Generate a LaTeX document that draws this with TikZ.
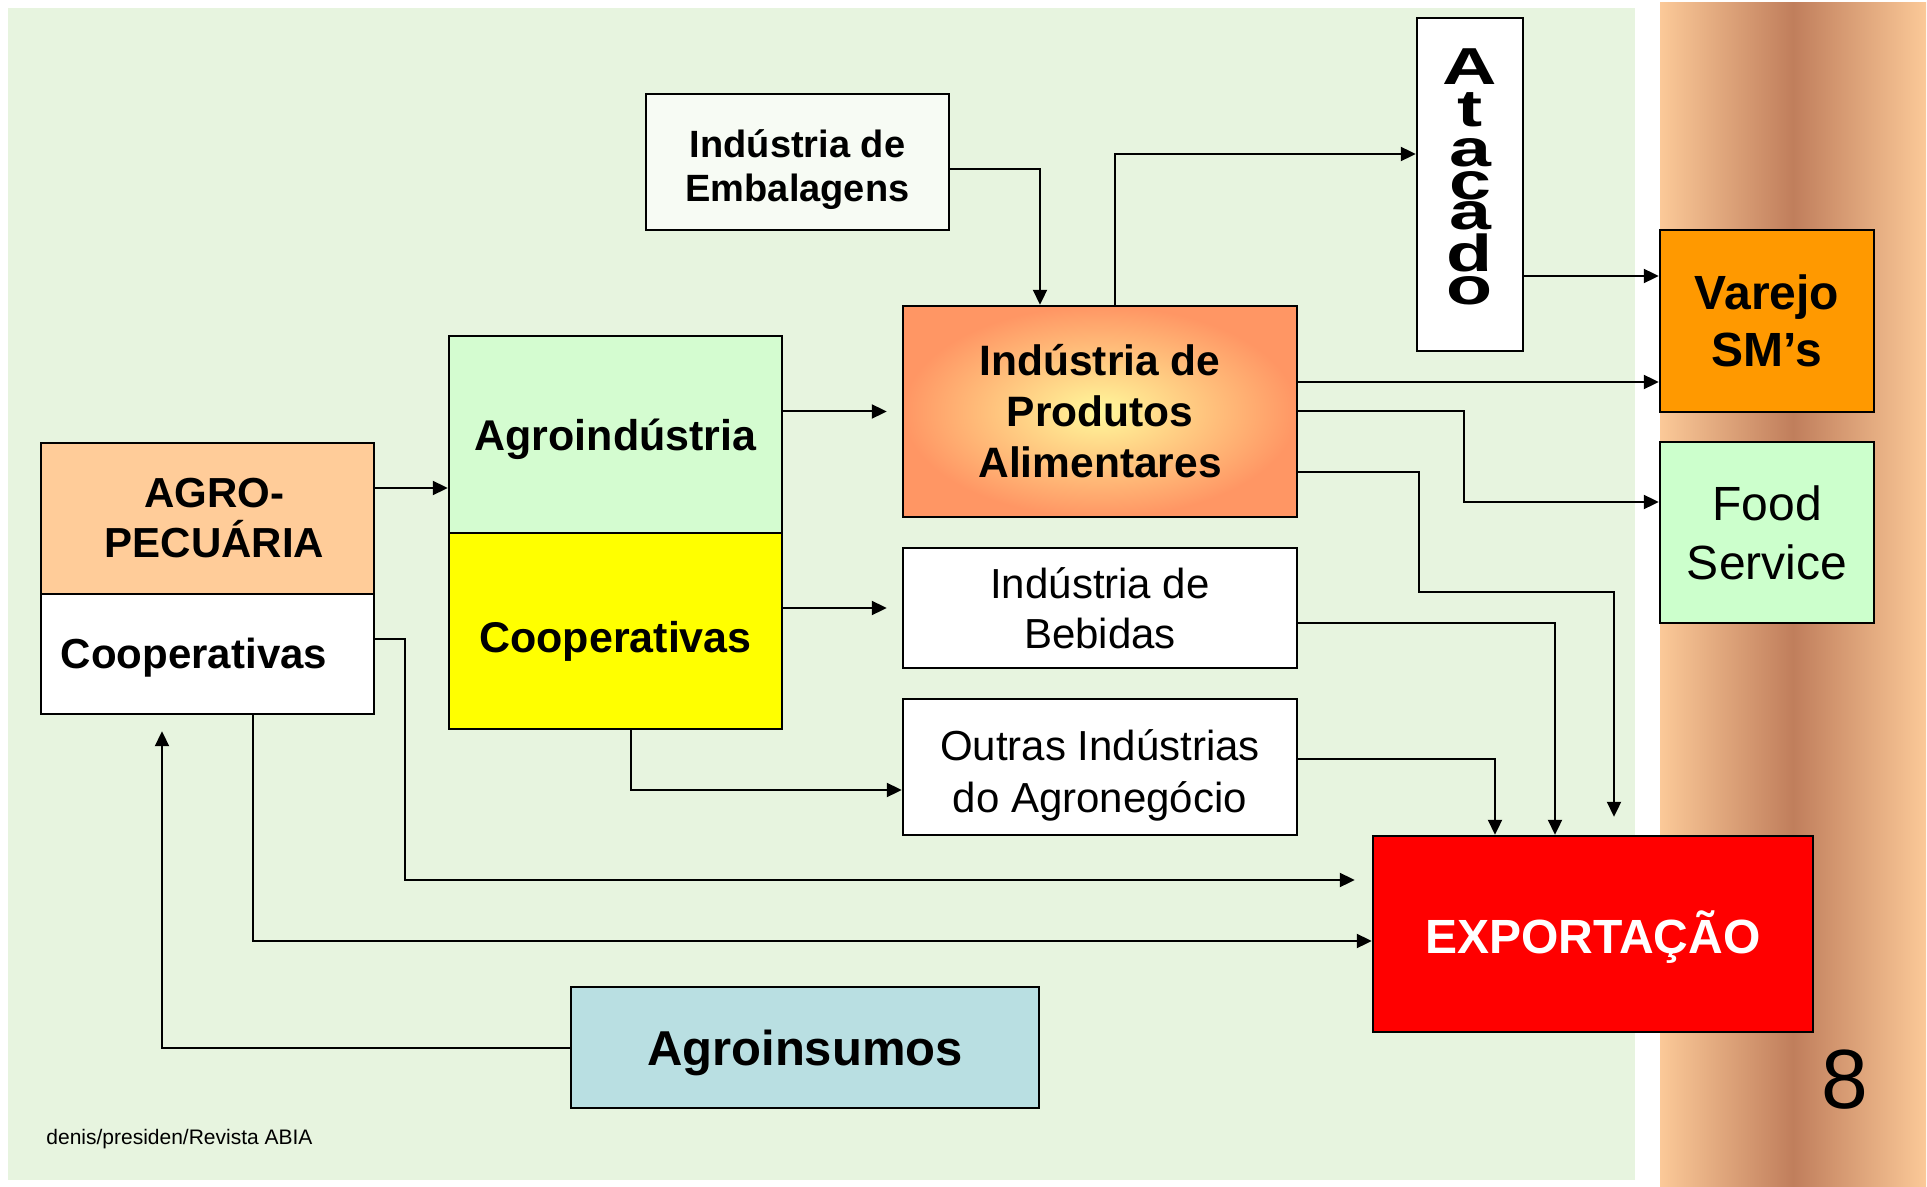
\documentclass[tikz,border=0pt]{standalone}
\usepackage{fontspec}
\setmainfont{Liberation Sans}
\usepackage{graphicx}
\usetikzlibrary{arrows.meta,calc,positioning}
\definecolor{PanelGreen}{RGB}{231,244,223}
\definecolor{StripeLight}{RGB}{251,201,152}
\definecolor{StripeDark}{RGB}{192,126,92}
\definecolor{AgroPeach}{RGB}{255,204,153}
\definecolor{AgroGreen}{RGB}{212,252,208}
\definecolor{FoodGreen}{RGB}{204,255,204}
\definecolor{VarejoOrange}{RGB}{255,153,0}
\definecolor{AlimOrange}{RGB}{255,150,100}
\definecolor{AlimYellow}{RGB}{255,248,155}
\definecolor{InsumoBlue}{RGB}{185,223,226}
\definecolor{EmbWhite}{RGB}{247,251,244}
\definecolor{CoopYellow}{RGB}{255,255,0}
\newcommand{\atletter}[1]{\smash{\scalebox{1.45}[1]{#1}}}

\begin{document}
\begin{tikzpicture}[x=0.5pt,y=-0.5pt,
  box/.style={draw=black,line width=1.2pt,inner sep=0pt,align=center},
  arr/.style={line width=1pt,-{Triangle[length=7.5pt,width=7pt]}}]
  % background
  \useasboundingbox (0,0) rectangle (1927,1187);
  \fill[white] (0,0) rectangle (1927,1187);
  \fill[PanelGreen] (8,8) rectangle (1635,1180);
  \shade[left color=StripeLight,right color=StripeLight,middle color=StripeDark]
    (1660,3) rectangle (1926,1187);

  % producers
  \node[box,fill=AgroPeach,font=\fontsize{21}{25}\selectfont\bfseries,
        minimum width=166.5pt,minimum height=75.5pt] (agro) at (207.5,518.5) {\hspace*{7pt}AGRO-\\\hspace*{7pt}PECUÁRIA};
  \node[box,fill=white,font=\fontsize{21}{25}\selectfont\bfseries,text height=14pt,text depth=0pt,
        minimum width=166.5pt,minimum height=60pt,text width=146.5pt,align=left] (coopw) at (207.5,654) {Cooperativas};
  \node[box,fill=AgroGreen,font=\fontsize{21.5}{26}\selectfont\bfseries,text height=16.5pt,text depth=0pt,
        minimum width=166.5pt,minimum height=98.5pt] (agi) at (615.5,434.5) {Agroindústria};
  \node[box,fill=CoopYellow,font=\fontsize{21.5}{26}\selectfont\bfseries,text height=21pt,text depth=0pt,
        minimum width=166.5pt,minimum height=98pt] (coop) at (615.5,631) {Cooperativas};

  % industries
  \node[box,fill=EmbWhite,font=\fontsize{19}{22}\selectfont\bfseries,
        minimum width=151.5pt,minimum height=68pt] (emb) at (797.5,162) {\rule{0pt}{21.7pt}Indústria de\\Embalagens};
  \node[box,inner color=AlimYellow,outer color=AlimOrange,font=\fontsize{21.25}{25.5}\selectfont\bfseries,
        minimum width=197pt,minimum height=105.5pt] (ind) at (1100,411.5) {Indústria de\\Produtos\\Alimentares};
  \node[box,fill=white,font=\fontsize{21}{25}\selectfont,
        minimum width=197pt,minimum height=60pt] (beb) at (1100,608) {Indústria de\\Bebidas};
  \node[box,fill=white,font=\fontsize{21}{26}\selectfont,
        minimum width=197pt,minimum height=68pt] (out) at (1100,767) {\rule{0pt}{23.5pt}Outras Indústrias\\do Agronegócio};

  % distribution
  \node[box,fill=white,font=\fontsize{26}{15}\selectfont\bfseries,
        minimum width=53pt,minimum height=166.5pt] (ata) at (1470,184.5)
    {\rule{0pt}{10.5pt}\atletter{A}\\[6pt]\atletter{t}\\[5pt]\atletter{a}\\[1.5pt]\atletter{c}\\\atletter{a}\\[6pt]\atletter{d}\\[1.5pt]\atletter{o}};
  \node[box,fill=VarejoOrange,font=\fontsize{24}{28.5}\selectfont\bfseries,
        minimum width=107pt,minimum height=91pt] (var) at (1767,321) {Varejo\\SM’s};
  \node[box,fill=FoodGreen,font=\fontsize{24}{29.5}\selectfont,
        minimum width=107pt,minimum height=90.5pt] (food) at (1767,532.5) {Food\\Service};
  \node[box,fill=red,text=white,font=\fontsize{24}{28}\selectfont\bfseries,text height=19pt,text depth=0pt,
        minimum width=220pt,minimum height=98pt] (exp) at (1593,934) {EXPORTAÇÃO};
  \node[box,fill=InsumoBlue,font=\fontsize{24.5}{28}\selectfont\bfseries,text height=17.5pt,text depth=0pt,
        minimum width=234pt,minimum height=60.5pt] (ains) at (805,1047.5) {Agroinsumos};

  % page number and source
  \node[font=\fontsize{42}{50}\selectfont] (pnum) at (1845,1080) {8};
  \node[anchor=base west,inner sep=0pt,font=\fontsize{10.5}{12}\selectfont] (src) at (46,1144) {denis/presiden/Revista ABIA};

  % connectors
  \coordinate (varA) at ($(var.west)+(0,-45)$);
  \coordinate (varB) at ($(var.west)+(0,61)$);
  \coordinate (agroOut) at ($(agro.east)+(0,-30.5)$);
  \draw[arr] ($(emb.east)+(0,7)$) -| ($(ind.north)+(-60,0)$);
  \draw[arr] ($(ind.north)+(15,0)$) |- ($(ata.west)+(0,-30.5)$);
  \draw[arr] (ata.east |- varA) -- (varA);
  \draw[arr] (ind.east |- varB) -- (varB);
  \draw[arr] (ind.east) -- ++(166,0) |- ($(food.west)+(0,-30.5)$);
  \draw[arr] ($(ind.east)+(0,60.5)$) -- ++(121,0) -- ++(0,120) -| ($(exp.north)+(21,-18)$);
  \draw[arr] ($(beb.east)+(0,15)$) -| ($(exp.north)+(-38,0)$);
  \draw[arr] ($(out.east)+(0,-8)$) -| ($(exp.north)+(-98,0)$);
  \draw[arr,shorten >=7.5pt] (ind.west -| agi.east) -- (ind.west);
  \draw[arr,shorten >=7.5pt] (beb.west -| coop.east) -- (beb.west);
  \draw[arr] ($(coop.south)+(15.5,0)$) |- ($(out.west)+(0,23)$);
  \draw[arr] (agroOut) -- (agroOut -| agi.west);
  \draw[arr] ($(coopw.east)+(0,-15)$) -- ++(30,0) |- ($(exp.west)+(-17,-54)$);
  \draw[arr] ($(coopw.south)+(45.5,0)$) |- ($(exp.west)+(0,7)$);
  \draw[arr] (ains.west) -| ($(coopw.south)+(-45.5,16)$);
\end{tikzpicture}
\end{document}
